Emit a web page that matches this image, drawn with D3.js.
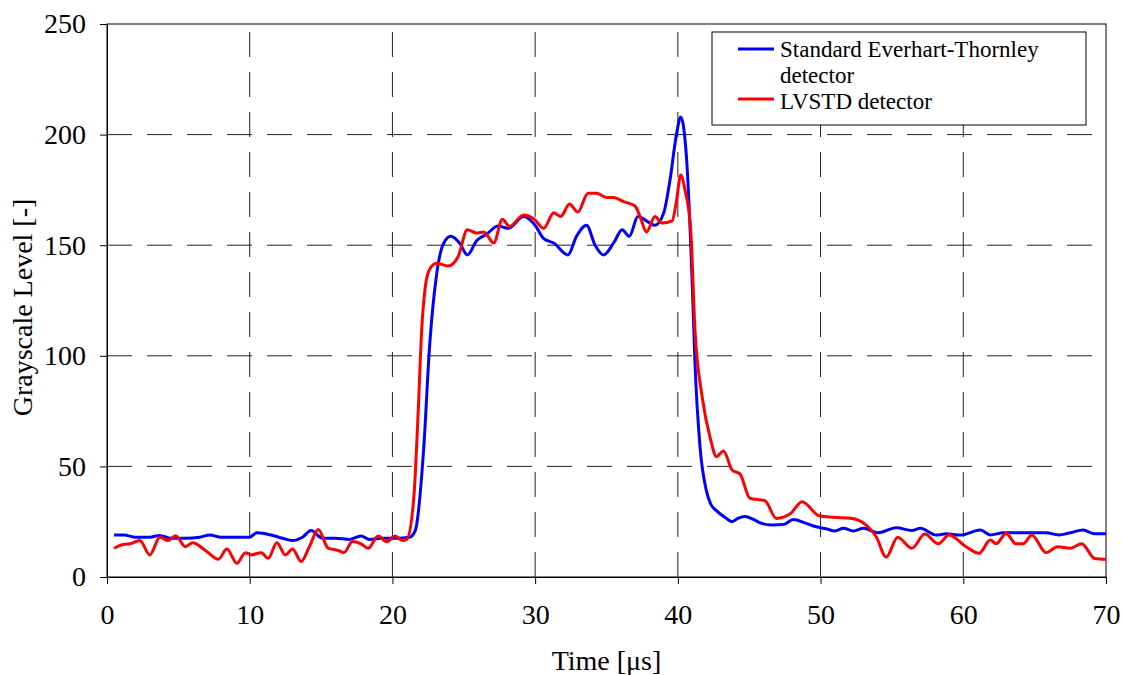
<!DOCTYPE html>
<html>
<head>
<meta charset="utf-8">
<script src="https://cdn.jsdelivr.net/npm/d3@7"></script>
<style>
  body { margin: 0; background: #fff; }
  svg { display: block; font-family: "Liberation Serif", "Times New Roman", serif; }
</style>
</head>
<body>
<svg id="chart" width="1122" height="675"></svg>
<script>
// Valores
const timeET = [0.5, 1.2, 2.0, 3.0, 3.7, 4.5, 5.5, 6.5, 7.2, 8.0, 9.0, 10.0, 10.5, 11.5, 12.3, 13.0, 13.7, 14.3, 15.1, 16.0, 17.0, 17.8, 18.4, 19.3, 20.3, 21.2, 21.6, 22.2, 22.6, 23.1, 23.6, 24.1, 24.7, 25.25, 25.9, 26.6, 27.4, 28.1, 29.2, 30.0, 30.6, 31.3, 32.3, 32.9, 33.6, 34.2, 34.8, 35.5, 36.1, 36.6, 37.2, 37.8, 38.4, 39.0, 39.45, 39.9, 40.2, 40.6, 41.0, 41.2, 41.55, 42.0, 42.3, 42.7, 43.3, 43.8, 44.2, 44.7, 45.3, 45.8, 46.6, 47.4, 48.1, 48.9, 49.7, 50.4, 51.0, 51.6, 52.3, 53.0, 54.05, 55.3, 56.4, 57.0, 58.1, 58.8, 59.8, 61.2, 61.9, 62.8, 64.4, 65.8, 66.7, 67.5, 68.4, 69.2, 70];
const valET = [19, 19, 18, 18, 18.8, 17.5, 17.5, 18, 19, 18, 18, 18, 20, 19, 17.5, 16.5, 18, 21, 17.5, 17.5, 17, 18.5, 17, 17.5, 17.5, 18, 21, 59, 104, 137, 151, 154, 151, 145.6, 152, 155, 158.7, 157.6, 163, 159, 153, 151, 145.6, 154, 159, 150, 145.6, 151, 157, 154, 163, 161, 159, 164.4, 179.5, 200, 208, 190, 134, 96.6, 59, 39, 33, 30, 27, 25, 26.5, 27.3, 26, 24.4, 23.5, 23.7, 26, 24.5, 22.7, 21.8, 20.8, 22, 20.8, 22, 20, 22.3, 21, 22, 19, 19.5, 19, 21.2, 19, 20, 20, 20, 19, 20, 21.2, 19.5, 19.5];

const timeLV = [0.5, 1.0, 1.6, 2.3, 3.0, 3.7, 4.3, 4.8, 5.5, 6.0, 6.9, 7.8, 8.4, 9.1, 9.7, 10.1, 10.8, 11.3, 11.9, 12.5, 13.0, 13.6, 14.2, 14.8, 15.5, 16.2, 16.6, 17.2, 17.8, 18.3, 19.0, 19.6, 20.2, 20.7, 21.0, 21.5, 21.8, 22.05, 22.3, 22.6, 23.1, 23.9, 24.6, 25.25, 25.9, 26.4, 27.1, 27.7, 28.2, 29.2, 29.9, 30.6, 31.3, 31.8, 32.4, 33.0, 33.7, 34.3, 35.0, 35.5, 36.2, 37.0, 37.35, 37.8, 38.4, 38.9, 39.6, 39.9, 40.2, 40.5, 40.9, 41.2, 41.7, 42.3, 42.7, 43.2, 43.8, 44.35, 45.05, 46.1, 46.9, 47.9, 48.7, 49.9, 50.9, 52.1, 53.2, 53.9, 54.6, 55.4, 56.4, 57.3, 58.25, 59.0, 60.2, 61.1, 61.9, 62.3, 63.0, 63.7, 64.2, 64.8, 65.8, 66.6, 67.5, 68.3, 69.2, 70];
const valLV = [13, 14.5, 15, 16.5, 10, 18, 16.5, 18.7, 13.7, 15.5, 12, 8, 12.7, 6.2, 11, 10, 11, 8.5, 15.5, 10, 12.7, 7, 14, 21.5, 13, 12, 11, 16, 15, 13, 18.5, 16, 18.5, 16.5, 17, 36, 74, 111.7, 131, 139, 141.8, 140.6, 144.8, 157, 155.5, 156, 151, 161.7, 158.5, 163.7, 162, 157.6, 164.7, 163, 168.6, 165, 173.5, 173.5, 171.6, 171.6, 169.7, 167.7, 163, 156, 163, 160, 161, 170, 181.7, 175, 157, 111.7, 81.5, 62, 54.4, 57, 48.4, 46.6, 35.6, 34.5, 26.5, 28.7, 34, 27.7, 27, 26.6, 23.5, 18.2, 9, 18, 13, 19.4, 15, 19, 13.7, 10.7, 16.7, 15, 19.7, 15, 15, 19, 11, 13.7, 13, 15, 8.4, 8];

const xTicks = [0, 10, 20, 30, 40, 50, 60, 70];
const yTicks = [0, 50, 100, 150, 200, 250];
const seriesNames = ["Standard Everhart-Thornley", "LVSTD detector"];
const seriesColors = ["#0000ff", "#ff0000"];

const margin = { top: 24, right: 16, bottom: 98, left: 107 };
const width = 1122 - margin.left - margin.right;
const height = 675 - margin.top - margin.bottom;

const svg = d3.select("#chart");
const g = svg.append("g").attr("transform", `translate(${margin.left},${margin.top})`);

const x = d3.scaleLinear().domain([0, 70]).range([0, width]);
const y = d3.scaleLinear().domain([0, 250]).range([height, 0]);

// rejilla discontinua
g.selectAll("line.vgrid")
  .data(xTicks.slice(1, -1))
  .enter()
  .append("line")
  .attr("class", "vgrid")
  .attr("x1", (d) => x(d))
  .attr("x2", (d) => x(d))
  .attr("y1", height)
  .attr("y2", 0)
  .attr("stroke", "#222")
  .attr("stroke-width", 1)
  .attr("stroke-dasharray", "25,15");

g.selectAll("line.hgrid")
  .data(yTicks.slice(1, -1))
  .enter()
  .append("line")
  .attr("class", "hgrid")
  .attr("x1", 0)
  .attr("x2", width)
  .attr("y1", (d) => y(d))
  .attr("y2", (d) => y(d))
  .attr("stroke", "#222")
  .attr("stroke-width", 1)
  .attr("stroke-dasharray", "25,15");

// marco
g.append("rect")
  .attr("width", width)
  .attr("height", height)
  .attr("fill", "none")
  .attr("stroke", "#000")
  .attr("stroke-width", 1);

const xAxis = g.append("g")
  .attr("transform", `translate(0,${height})`)
  .call(d3.axisBottom(x).tickValues(xTicks).tickSize(7).tickPadding(20));
const yAxis = g.append("g")
  .call(d3.axisLeft(y).tickValues(yTicks).tickSize(7).tickPadding(14));

[xAxis, yAxis].forEach((a) => {
  a.select(".domain").attr("stroke", "#000");
  a.selectAll(".tick line").attr("stroke", "#000");
  a.selectAll(".tick text")
    .attr("fill", "#000")
    .style("font-size", "28px")
    .style("font-family", "Liberation Serif, Times New Roman, serif");
});

// curvas
const line = d3.line()
  .x((d) => x(d[0]))
  .y((d) => y(d[1]))
  .curve(d3.curveMonotoneX);

const dataET = timeET.map((t, i) => [t, valET[i]]);
const dataLV = timeLV.map((t, i) => [t, valLV[i]]);

g.append("path")
  .datum(dataET)
  .attr("fill", "none")
  .attr("stroke", seriesColors[0])
  .attr("stroke-width", 3)
  .attr("stroke-linejoin", "round")
  .attr("d", line);

g.append("path")
  .datum(dataLV)
  .attr("fill", "none")
  .attr("stroke", seriesColors[1])
  .attr("stroke-width", 3)
  .attr("stroke-linejoin", "round")
  .attr("d", line);

// titulos de ejes
svg.append("text")
  .attr("x", margin.left + x(35))
  .attr("y", 670)
  .attr("text-anchor", "middle")
  .style("font-size", "28px")
  .text("Time [\u03bcs]");

svg.append("text")
  .attr("transform", `translate(32,${margin.top + height / 2 + 7}) rotate(-90)`)
  .attr("text-anchor", "middle")
  .style("font-size", "28px")
  .text("Grayscale Level [-]");

// leyenda
const legend = svg.append("g").attr("transform", "translate(712,32)");
legend.append("rect")
  .attr("width", 374)
  .attr("height", 93)
  .attr("fill", "#fff")
  .attr("stroke", "#000")
  .attr("stroke-width", 1);

legend.append("line")
  .attr("x1", 26).attr("x2", 62).attr("y1", 17).attr("y2", 17)
  .attr("stroke", seriesColors[0]).attr("stroke-width", 3);
legend.append("text")
  .attr("x", 68).attr("y", 25)
  .style("font-size", "23px")
  .text(seriesNames[0]);
legend.append("text")
  .attr("x", 68).attr("y", 51)
  .style("font-size", "23px")
  .text("detector");

legend.append("line")
  .attr("x1", 26).attr("x2", 62).attr("y1", 67).attr("y2", 67)
  .attr("stroke", seriesColors[1]).attr("stroke-width", 3);
legend.append("text")
  .attr("x", 68).attr("y", 77)
  .style("font-size", "23px")
  .text(seriesNames[1]);
</script>
</body>
</html>
